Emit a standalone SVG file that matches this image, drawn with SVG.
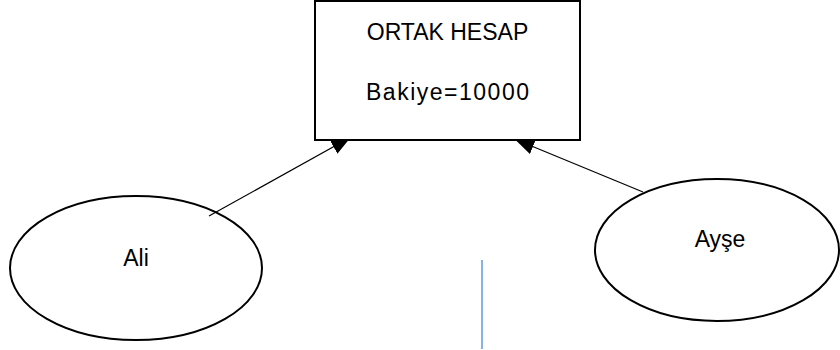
<svg xmlns="http://www.w3.org/2000/svg" width="840" height="350" viewBox="0 0 840 350">
  <defs>
    <marker id="arrow" markerUnits="userSpaceOnUse" markerWidth="20" markerHeight="16" refX="20" refY="8" orient="auto">
      <path d="M0,0 L20,8 L0,16 z" fill="#000"/>
    </marker>
    <style>
      .shape { fill: #fff; stroke: #000; stroke-width: 2; }
      .label { font-family: "Liberation Sans", Arial, sans-serif; font-size: 23px; fill: #000; text-anchor: middle; }
      .link { stroke: #000; stroke-width: 1.2; fill: none; marker-end: url(#arrow); }
    </style>
  </defs>
  <rect width="840" height="350" fill="#fff"/>

  <g id="ali">
    <ellipse class="shape" cx="136" cy="268" rx="126" ry="72"/>
    <text class="label" x="136" y="266">Ali</text>
  </g>

  <g id="ayse">
    <ellipse class="shape" cx="717" cy="250" rx="122" ry="71"/>
    <text class="label" x="720" y="247">Ayşe</text>
  </g>

  <!-- arrow tips run under the box, which is painted over them -->
  <g id="connectors">
    <line class="link" x1="209" y1="216" x2="351" y2="137"/>
    <line class="link" x1="643" y1="192" x2="514.5" y2="139"/>
  </g>

  <g id="ortak-hesap">
    <rect class="shape" x="315" y="1" width="265" height="139"/>
    <text class="label" x="447.5" y="40">ORTAK HESAP</text>
    <text class="label" x="447.5" y="100" textLength="163" lengthAdjust="spacing">Bakiye=10000</text>
  </g>

  <line x1="482" y1="260" x2="482" y2="349" stroke="#5B9BD5" stroke-width="1.5"/>
</svg>
